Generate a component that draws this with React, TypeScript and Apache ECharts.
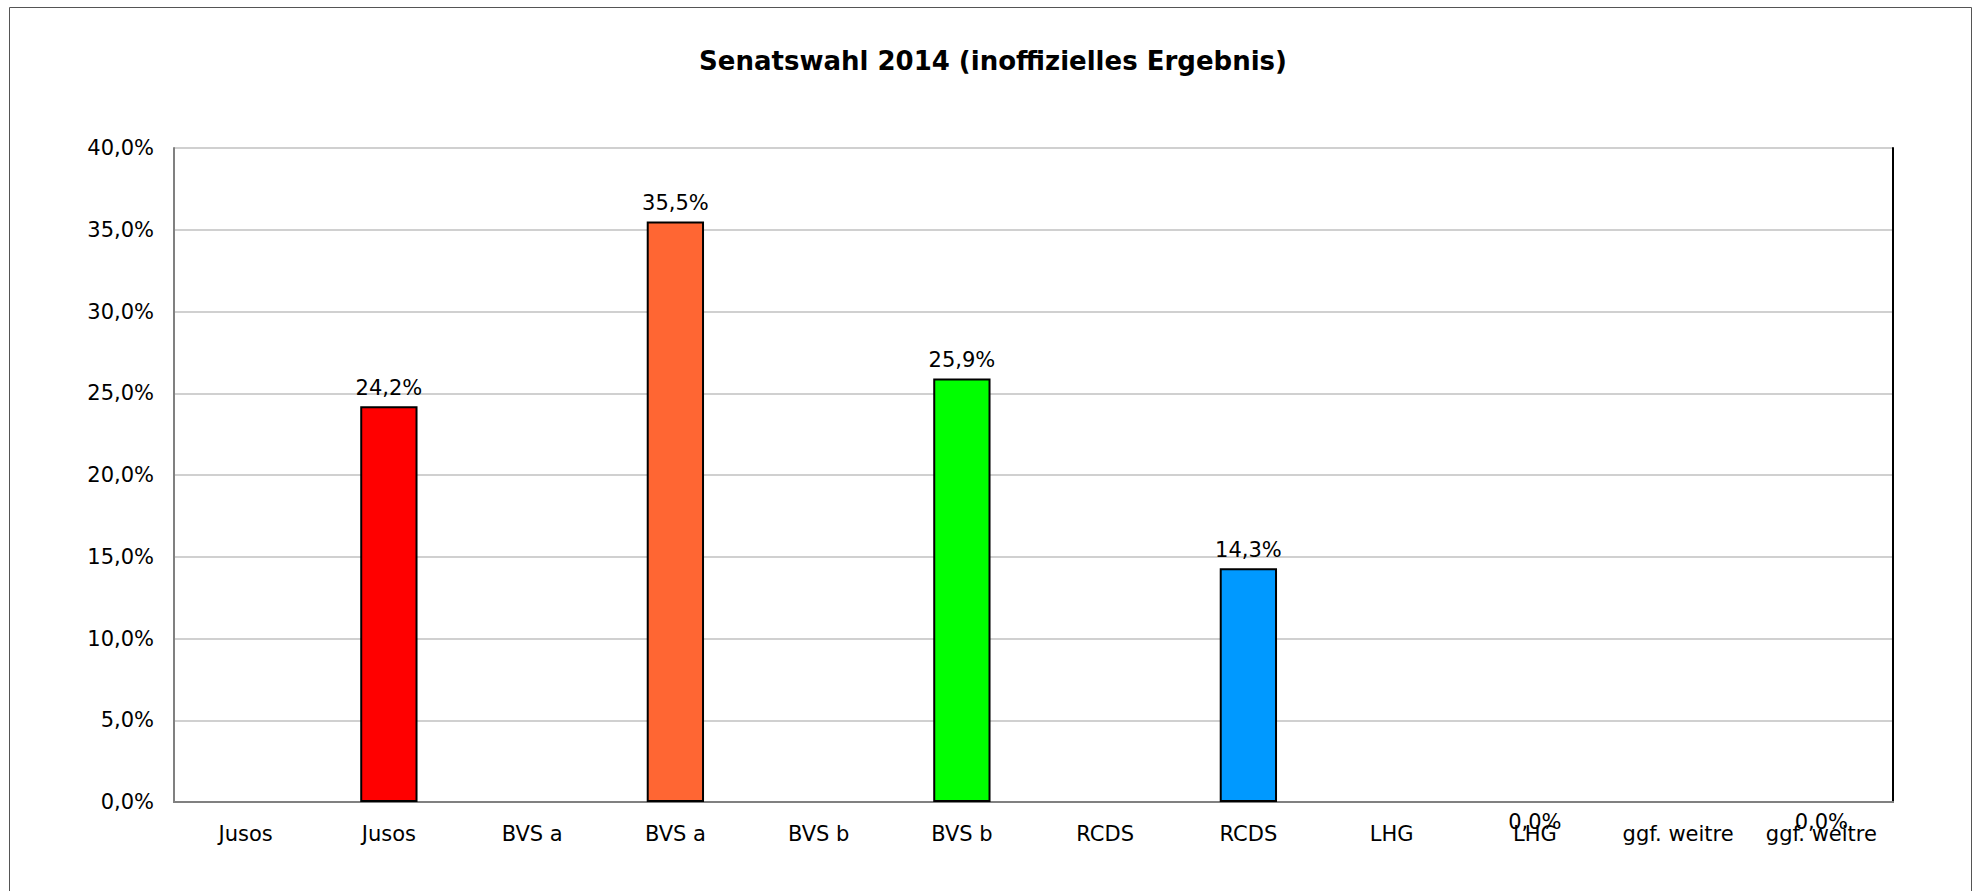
import React, { useEffect, useRef } from "react";
import * as echarts from "echarts";

const titleText = "Senatswahl 2014 (inoffizielles Ergebnis)";
const categories = [
  "Jusos", "Jusos", "BVS a", "BVS a", "BVS b", "BVS b",
  "RCDS", "RCDS", "LHG", "LHG", "ggf. weitre", "ggf. weitre",
];
const values: (number | null)[] = [null, 24.2, null, 35.5, null, 25.9, null, 14.3, null, 0.0, null, 0.0];
const barColors = ["#FF0000", "#FF0000", "#FF6633", "#FF6633", "#00FF00", "#00FF00", "#0099FF", "#0099FF", "#FFFF00", "#FFFF00", "#999999", "#999999"];
const yMin = 0;
const yMax = 40;
const yStep = 5;

const FONT = "DejaVu Sans";
const fmt = (v: number) => v.toFixed(1).replace(".", ",") + "%";

export default function App() {
  const ref = useRef<HTMLDivElement>(null);
  useEffect(() => {
    if (!ref.current) return;
    const chart = echarts.init(ref.current, null, { renderer: "svg" });
    const data = values.map((v, i) => {
      if (v === null) return { value: null };
      const item: any = {
        value: v,
        itemStyle: { color: barColors[i], borderColor: "#000", borderWidth: 2 },
      };
      if (v === 0) {
        item.label = { position: "bottom", distance: 9 };
        item.itemStyle.borderWidth = 0;
      }
      return item;
    });
    chart.setOption({
      animation: false,
      backgroundColor: "#fff",
      title: {
        text: titleText,
        left: 988,
        textAlign: "center",
        top: 43,
        textStyle: { fontFamily: FONT, fontSize: 26, fontWeight: "bold", color: "#000" },
      },
      graphic: [
        {
          type: "rect",
          shape: { x: 9.5, y: 7.5, width: 1962, height: 920 },
          style: { fill: "none", stroke: "#555", lineWidth: 1 },
          silent: true,
        },
      ],
      grid: { left: 174, right: 85, top: 148, bottom: 89, containLabel: false },
      xAxis: [
        {
          type: "category",
          data: categories,
          axisLine: { lineStyle: { color: "#808080", width: 2 } },
          axisTick: { show: false },
          axisLabel: { fontFamily: FONT, fontSize: 21, color: "#000", margin: 21, interval: 0 },
        },
        {
          type: "category",
          data: categories,
          position: "top",
          axisLine: { lineStyle: { color: "#808080", width: 2 } },
          axisTick: { show: false },
          axisLabel: { show: false },
        },
      ],
      yAxis: [
        {
          type: "value",
          min: yMin,
          max: yMax,
          interval: yStep,
          axisLine: { show: true, lineStyle: { color: "#808080", width: 2 } },
          axisTick: { show: false },
          splitLine: { lineStyle: { color: "#c0c0c0", width: 1.5 } },
          axisLabel: { fontFamily: FONT, fontSize: 21, color: "#000", margin: 20, formatter: (v: number) => fmt(v) },
        },
        {
          type: "value",
          min: yMin,
          max: yMax,
          interval: yStep,
          position: "right",
          axisLine: { show: true, lineStyle: { color: "#000", width: 2 } },
          axisTick: { show: false },
          splitLine: { show: false },
          axisLabel: { show: false },
        },
      ],
      series: [
        {
          type: "bar",
          data,
          barWidth: "40%",
          label: {
            show: true,
            position: "top",
            distance: 8,
            fontFamily: FONT,
            fontSize: 21,
            color: "#000",
            formatter: (p: any) => fmt(p.value),
          },
        },
      ],
    });
    return () => chart.dispose();
  }, []);
  return (
    <div
      ref={ref}
      style={{ position: "fixed", left: 0, top: 0, width: 1978, height: 891, background: "#fff" }}
    />
  );
}
